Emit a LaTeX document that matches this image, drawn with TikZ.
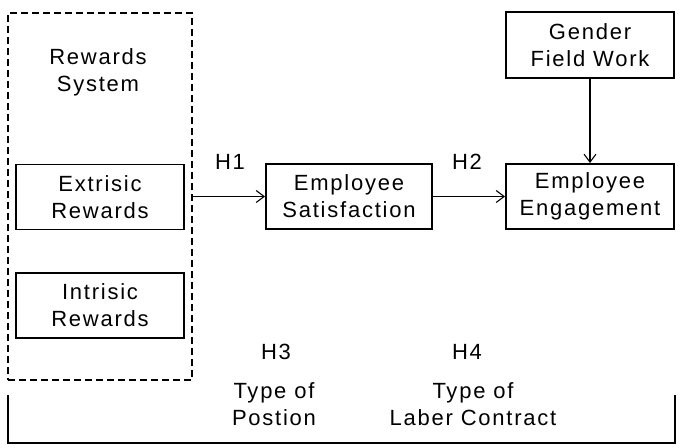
\documentclass[tikz,border=0pt]{standalone}
\usepackage{fontspec}
\setmainfont[LetterSpace=8]{Liberation Sans}
\usetikzlibrary{arrows.meta,positioning}

\begin{document}
\begin{tikzpicture}[x=1pt,y=-1pt,
  every node/.style={font=\fontsize{22}{27}\selectfont,align=center,inner sep=0pt},
  varbox/.style={draw,line width=1.9pt,minimum width=168pt,minimum height=65pt},
  link/.style={line width=1.1pt,-{Straight Barb[length=8pt,width=12pt,line width=1.1pt]}}]
  \useasboundingbox (0,0) rectangle (684,447);
  % Rewards system
  \node[draw,dashed,dash pattern=on 7pt off 4pt,line width=2pt,minimum width=184pt,minimum height=367pt] (sys) at (100,196.5) {};
  \node (systitle) at (98,72) {Rewards\\System};
  \node[varbox] (extr) at (100,197) {Extrisic\\Rewards};
  \node[varbox] (intr) at (100,305.5) {Intrisic\\Rewards};
  % Outcomes
  \node[varbox,minimum width=166pt] (sat) at (349,196.5) {Employee\\Satisfaction};
  \node[varbox] (eng) at (590,196.5) {Employee\\Engagement};
  \node[varbox,minimum height=66pt] (gen) at (590,45) {Gender\\Field Work};
  \draw[link] (sys.east) -- (sat.west);
  \draw[link] (sat.east) -- (eng.west);
  \draw[link] (gen.south) -- (eng.north);
  % Hypotheses
  \node (h1) at (230,162) {H1};
  \node (h2) at (467,162) {H2};
  \node (h3) at (276,352) {H3};
  \node (h4) at (467,352) {H4};
  \node (pos) at (274,404.5) {Type of\\Postion};
  \node (lab) at (473,404.5) {Type of\\Laber Contract};
  % Bracket
  \coordinate (bl) at (8,395);
  \coordinate (br) at (675,395);
  \draw[line width=1.4pt] (bl) -- (bl |- 0,443) -- (br |- 0,443) -- (br);
\end{tikzpicture}
\end{document}
